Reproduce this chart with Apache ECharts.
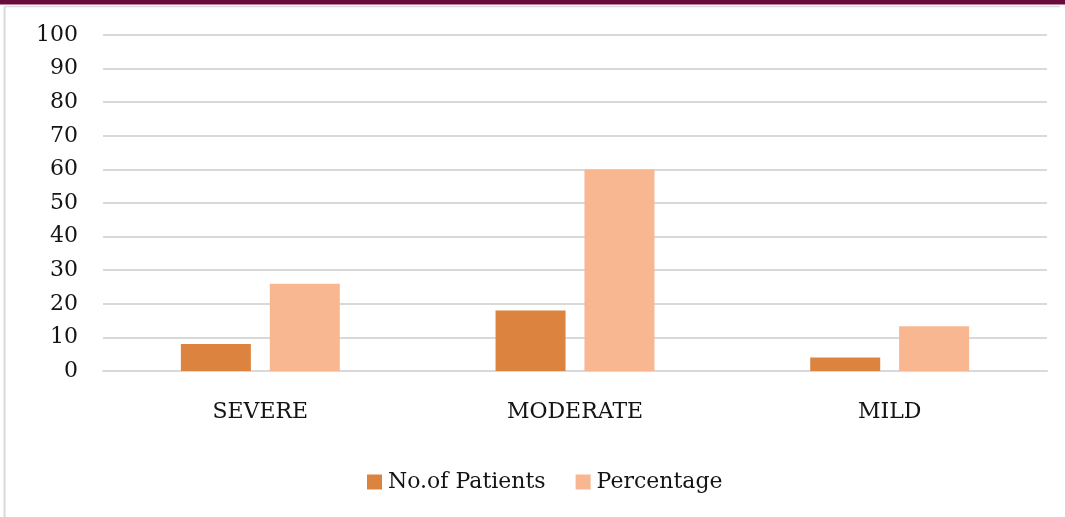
<!DOCTYPE html>
<html>
<head>
<meta charset="utf-8">
<script src="https://cdn.jsdelivr.net/npm/echarts@6/dist/echarts.min.js"></script>
<style>
  html, body { margin: 0; padding: 0; background: #fff; }
  #chart { width: 1065px; height: 517px; }
</style>
</head>
<body>
<div id="chart"></div>
<script>
// Severity categories and the two series drawn for each
const categories = ['SEVERE', 'MODERATE', 'MILD'];
const patients = [8, 18, 4];
const percentage = [26, 60, 13.3];
const yTicks = { min: 0, max: 100, interval: 10 };

const FONT = '"DejaVu Serif", "Liberation Serif", serif';
const TEXT = '#141414';

const chart = echarts.init(document.getElementById('chart'), null, { renderer: 'canvas' });

chart.setOption({
  backgroundColor: '#ffffff',
  animation: false,
  textStyle: { fontFamily: FONT },
  graphic: [
    // maroon rule along the top edge
    { type: 'rect', left: 0, top: 0, shape: { width: 1065, height: 4.5 }, style: { fill: '#690b3b' }, silent: true },
    // light frame around the chart area
    { type: 'line', shape: { x1: 4.5, y1: 6.5, x2: 1060, y2: 6.5 }, style: { stroke: '#d9d9d9', lineWidth: 1.5 }, silent: true },
    { type: 'line', shape: { x1: 4.5, y1: 6.5, x2: 4.5, y2: 517 }, style: { stroke: '#d9d9d9', lineWidth: 2 }, silent: true }
  ],
  legend: {
    top: 466,
    left: 362,
    itemWidth: 15,
    itemHeight: 15,
    itemGap: 30,
    icon: 'rect',
    textStyle: { fontFamily: FONT, fontSize: 22, color: TEXT, padding: [0, 0, 0, 1] },
    data: ['No.of Patients', 'Percentage']
  },
  grid: { left: 103, right: 18, top: 35, bottom: 146, containLabel: false },
  xAxis: {
    type: 'category',
    data: categories,
    axisLine: { show: true, lineStyle: { color: '#d9d9d9', width: 2 } },
    axisTick: { show: false },
    axisLabel: { fontFamily: FONT, fontSize: 22, color: TEXT, margin: 30 }
  },
  yAxis: {
    type: 'value',
    min: yTicks.min,
    max: yTicks.max,
    interval: yTicks.interval,
    axisLine: { show: false },
    axisTick: { show: false },
    splitLine: { lineStyle: { color: '#d9d9d9', width: 2 } },
    axisLabel: { fontFamily: FONT, fontSize: 22, color: TEXT, margin: 25 }
  },
  series: [
    {
      name: 'No.of Patients',
      type: 'bar',
      data: patients,
      barWidth: 70,
      barGap: '27%',
      itemStyle: { color: '#DC843F' }
    },
    {
      name: 'Percentage',
      type: 'bar',
      data: percentage,
      barWidth: 70,
      itemStyle: { color: '#F8B691' }
    }
  ]
});
</script>
</body>
</html>
